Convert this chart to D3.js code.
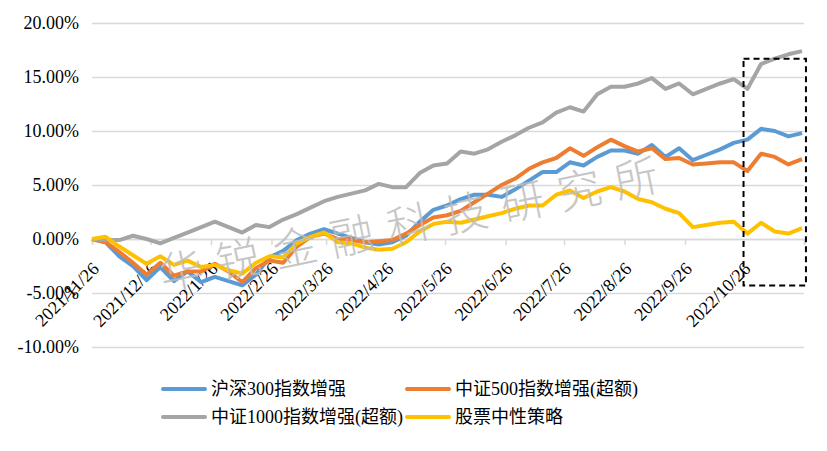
<!DOCTYPE html>
<html>
<head>
<meta charset="utf-8">
<script src="https://cdn.jsdelivr.net/npm/d3@7"></script>
<style>
    html, body { margin: 0; padding: 0; background: #fff; }
    svg { display: block; }
    .tick-label { font-family: "Times New Roman", "Liberation Serif", serif; font-size: 18px; fill: #000; }
    .legend-label { font-family: "Times New Roman", "Liberation Serif", "Noto Sans CJK SC", serif; font-size: 18px; fill: #000; }
</style>
</head>
<body>
<svg id="chart"></svg>
<script>
// weekly observation dates
const dates = [
    '2021-11-26', '2021-12-03', '2021-12-10', '2021-12-17', '2021-12-24', '2021-12-31',
    '2022-01-07', '2022-01-14', '2022-01-21', '2022-01-28', '2022-02-04', '2022-02-11',
    '2022-02-18', '2022-02-25', '2022-03-04', '2022-03-11', '2022-03-18', '2022-03-25',
    '2022-04-01', '2022-04-08', '2022-04-15', '2022-04-22', '2022-04-29', '2022-05-06',
    '2022-05-13', '2022-05-20', '2022-05-27', '2022-06-03', '2022-06-10', '2022-06-17',
    '2022-06-24', '2022-07-01', '2022-07-08', '2022-07-15', '2022-07-22', '2022-07-29',
    '2022-08-05', '2022-08-12', '2022-08-19', '2022-08-26', '2022-09-02', '2022-09-09',
    '2022-09-16', '2022-09-23', '2022-09-30', '2022-10-07', '2022-10-14', '2022-10-21',
    '2022-10-28', '2022-11-04', '2022-11-11', '2022-11-18', '2022-11-25'
];

// cumulative returns, %
const hs300 = [
    0, -0.3, -1.6, -2.5, -3.8, -2.6, -3.9, -3.0, -4.0, -3.5, -3.9, -4.3, -3.3,
    -1.7, -1.1, -0.1, 0.5, 0.9, 0.5, 0.1, -0.3, -0.5, -0.3, 0.3, 1.6, 2.7,
    3.1, 3.7, 4.1, 4.1, 3.9, 4.6, 5.4, 6.2, 6.2, 7.1, 6.8, 7.6, 8.2, 8.2,
    7.9, 8.7, 7.6, 8.4, 7.3, 7.8, 8.3, 8.9, 9.2, 10.2, 10.0, 9.5, 9.8
];
const zz500 = [
    0, -0.3, -1.2, -2.2, -3.3, -2.2, -3.4, -3.0, -3.0, -2.3, -3.0, -4.0, -2.7,
    -2.0, -2.2, -0.7, 0.2, 0.5, 0.0, -0.1, -0.3, -0.2, -0.1, 0.5, 1.3, 2.0,
    2.2, 2.6, 3.4, 4.2, 5.0, 5.6, 6.5, 7.1, 7.5, 8.4, 7.7, 8.5, 9.2, 8.6,
    8.1, 8.4, 7.4, 7.5, 6.9, 7.0, 7.1, 7.1, 6.3, 7.9, 7.6, 6.9, 7.4
];
const zz1000 = [
    0, -0.1, -0.1, 0.3, 0.0, -0.4, 0.1, 0.6, 1.1, 1.6, 1.1, 0.6, 1.3,
    1.1, 1.8, 2.3, 2.9, 3.5, 3.9, 4.2, 4.5, 5.1, 4.8, 4.8, 6.1, 6.8,
    7.0, 8.1, 7.9, 8.3, 9.0, 9.6, 10.3, 10.8, 11.7, 12.2, 11.8, 13.4, 14.1, 14.1,
    14.4, 14.9, 13.9, 14.4, 13.4, 13.9, 14.4, 14.8, 13.9, 16.2, 16.7, 17.1, 17.4
];
const neutral = [
    0, 0.2, -0.7, -1.5, -2.3, -1.6, -2.4, -2.0, -2.6, -2.4, -2.9, -3.2, -2.2,
    -1.6, -1.7, -0.4, 0.2, 0.6, -0.3, -0.4, -0.8, -1.0, -0.9, -0.3, 0.7, 1.4,
    1.6, 1.5, 1.8, 2.1, 2.4, 2.8, 3.1, 3.1, 4.1, 4.5, 3.8, 4.4, 4.8, 4.4,
    3.7, 3.4, 2.8, 2.4, 1.1, 1.3, 1.5, 1.6, 0.5, 1.5, 0.7, 0.5, 1.0
];

const seriesNames = ['沪深300指数增强', '中证500指数增强(超额)', '中证1000指数增强(超额)', '股票中性策略'];
const seriesColors = ['#5B9BD5', '#ED7D31', '#A5A5A5', '#FFC000'];
const seriesValues = [hs300, zz500, zz1000, neutral];

// axes
const yTicks = [-10, -5, 0, 5, 10, 15, 20];
const xTickDates = [
    '2021-11-26', '2021-12-26', '2022-01-26', '2022-02-26', '2022-03-26', '2022-04-26', '2022-05-26',
    '2022-06-26', '2022-07-26', '2022-08-26', '2022-09-26', '2022-10-26', '2022-11-26'
];
const xTickLabels = [
    '2021/11/26', '2021/12/26', '2022/1/26', '2022/2/26', '2022/3/26', '2022/4/26', '2022/5/26',
    '2022/6/26', '2022/7/26', '2022/8/26', '2022/9/26', '2022/10/26', ''
];

// highlighted period box
const boxRange = ['2022-10-26', '2022-11-27'];
const boxValues = [16.7, -4.3];

const watermark = '华锐金融科技研究所';

const W = 827, H = 451;
const plot = { left: 92, right: 804, top: 23, bottom: 347 };
const parse = d3.timeParse('%Y-%m-%d');

const svg = d3.select('#chart').attr('width', W).attr('height', H);

const x = d3.scaleTime()
    .domain([parse(xTickDates[0]), parse(xTickDates[xTickDates.length - 1])])
    .range([plot.left, plot.right]);

const y = d3.scaleLinear()
    .domain([-10, 20])
    .range([plot.bottom, plot.top]);

// horizontal grid + y labels
const yAxis = d3.axisLeft(y)
    .tickValues(yTicks)
    .tickSize(-(plot.right - plot.left))
    .tickPadding(13)
    .tickFormat(d => d.toFixed(2) + '%');

const gy = svg.append('g')
    .attr('transform', `translate(${plot.left},0)`)
    .call(yAxis);
gy.select('.domain').remove();
gy.selectAll('.tick line').attr('stroke', '#d9d9d9').attr('stroke-width', 1.5);
gy.selectAll('.tick text')
    .attr('class', 'tick-label')
    .attr('font-size', null)
    .attr('font-family', null);

// category axis at 0%
const xAxis = d3.axisBottom(x)
    .tickValues(xTickDates.map(parse))
    .tickSize(6)
    .tickFormat('');

const gx = svg.append('g')
    .attr('transform', `translate(0,${y(0)})`)
    .call(xAxis);
gx.select('.domain').attr('stroke', '#d9d9d9').attr('stroke-width', 1.5);
gx.selectAll('.tick line').attr('stroke', '#d9d9d9').attr('stroke-width', 1.5);

svg.append('g')
    .selectAll('text')
    .data(xTickDates.map((d, i) => ({ date: parse(d), label: xTickLabels[i] })))
    .join('text')
    .attr('class', 'tick-label')
    .attr('text-anchor', 'end')
    .attr('transform', d => `translate(${x(d.date) + 8},${y(0) + 31}) rotate(-45)`)
    .text(d => d.label);

// series lines
const line = d3.line()
    .x((d, i) => x(parse(dates[i])))
    .y(d => y(d));

svg.append('g')
    .selectAll('path')
    .data(seriesValues)
    .join('path')
    .attr('fill', 'none')
    .attr('stroke', (d, i) => seriesColors[i])
    .attr('stroke-width', 4)
    .attr('stroke-linejoin', 'round')
    .attr('d', d => line(d));

// dashed highlight box
svg.append('rect')
    .attr('x', x(parse(boxRange[0])))
    .attr('y', y(boxValues[0]))
    .attr('width', x(parse(boxRange[1])) - x(parse(boxRange[0])))
    .attr('height', y(boxValues[1]) - y(boxValues[0]))
    .attr('fill', 'none')
    .attr('stroke', '#000')
    .attr('stroke-width', 2)
    .attr('stroke-dasharray', '6,4');

// watermark
svg.append('text')
    .attr('transform', 'translate(160,276) rotate(-11.5)')
    .attr('dy', '0.35em')
    .attr('font-family', '"Noto Sans CJK SC", sans-serif')
    .attr('font-size', 44)
    .attr('font-weight', 300)
    .attr('letter-spacing', 14)
    .attr('fill', '#bdbdbd')
    .attr('opacity', 0.85)
    .text(watermark);

// legend
const legendPos = [
    { x: 163, y: 389 }, { x: 407, y: 389 },
    { x: 163, y: 417 }, { x: 407, y: 417 }
];

const legend = svg.append('g')
    .selectAll('g')
    .data(seriesNames)
    .join('g')
    .attr('transform', (d, i) => `translate(${legendPos[i].x},${legendPos[i].y})`);

legend.append('line')
    .attr('x1', 0).attr('x2', 42)
    .attr('stroke', (d, i) => seriesColors[i])
    .attr('stroke-width', 4)
    .attr('stroke-linecap', 'round');

legend.append('text')
    .attr('class', 'legend-label')
    .attr('x', 48)
    .attr('dy', '0.35em')
    .text(d => d);
</script>
</body>
</html>
